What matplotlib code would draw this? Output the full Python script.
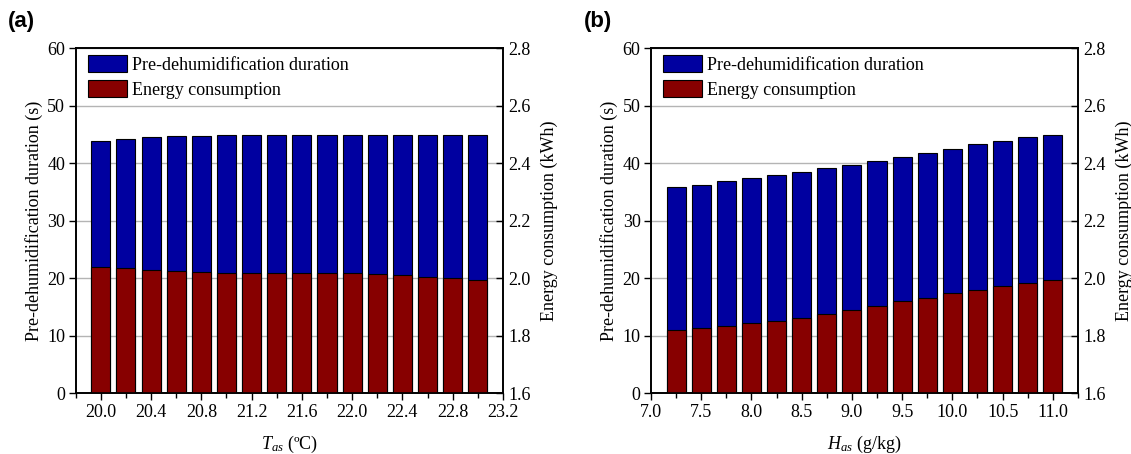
import matplotlib
matplotlib.use("Agg")
import matplotlib.pyplot as plt
from matplotlib.ticker import MultipleLocator, FormatStrFormatter
from matplotlib.patches import Patch

plt.rcParams['font.family'] = ['Liberation Serif', 'DejaVu Serif']
plt.rcParams['mathtext.fontset'] = 'custom'
plt.rcParams['mathtext.it'] = 'Liberation Serif:italic'
plt.rcParams['mathtext.rm'] = 'Liberation Serif'
plt.rcParams['font.size'] = 13

# Panel (a): supply air temperature
t_as = [20.0, 20.2, 20.4, 20.6, 20.8, 21.0, 21.2, 21.4, 21.6, 21.8,
        22.0, 22.2, 22.4, 22.6, 22.8, 23.0]
dur_a = [43.9, 44.3, 44.55, 44.7, 44.8, 44.85, 44.9, 44.9, 44.95, 44.95,
         44.95, 44.95, 44.95, 44.95, 45.0, 45.0]
energy_a = [2.038, 2.035, 2.030, 2.025, 2.022, 2.019, 2.018, 2.019, 2.019, 2.019,
            2.018, 2.014, 2.010, 2.006, 2.002, 1.995]

# Panel (b): supply air humidity ratio
h_as = [7.25, 7.5, 7.75, 8.0, 8.25, 8.5, 8.75, 9.0, 9.25, 9.5,
        9.75, 10.0, 10.25, 10.5, 10.75, 11.0]
dur_b = [35.8, 36.3, 36.85, 37.4, 37.95, 38.5, 39.1, 39.75, 40.45, 41.15,
         41.85, 42.55, 43.3, 43.9, 44.5, 45.0]
energy_b = [1.820, 1.828, 1.835, 1.846, 1.853, 1.863, 1.877, 1.891, 1.905, 1.921,
            1.933, 1.948, 1.960, 1.973, 1.984, 1.995]

BLUE = '#0000A0'
RED = '#870000'

fig = plt.figure(figsize=(11.31, 4.54), dpi=100)

def panel(rect, x, dur, en, width, xlim, major, minor, xlabel, tag, tagpos):
    ax = fig.add_axes(rect)
    ax.set_axisbelow(True)
    ax.bar(x, dur, width=width, color=BLUE, edgecolor='black', linewidth=0.8, zorder=2)
    ax.set_xlim(*xlim)
    ax.set_ylim(0, 60)
    ax.yaxis.set_major_locator(MultipleLocator(10))
    ax.xaxis.set_major_locator(MultipleLocator(major))
    ax.xaxis.set_minor_locator(MultipleLocator(minor))
    ax.xaxis.set_major_formatter(FormatStrFormatter('%.1f'))
    ax.grid(axis='y', color='#b4b4b4', linewidth=1.0)
    ax.set_ylabel('Pre-dehumidification duration (s)', labelpad=3)
    ax.set_xlabel(xlabel, labelpad=9)
    ax.tick_params(axis='y', direction='out', length=5, width=1, pad=2.5)
    ax.tick_params(axis='x', which='major', direction='out', length=5, width=1, pad=3)
    ax.tick_params(axis='x', which='minor', direction='out', length=3.5, width=1)
    ax2 = ax.twinx()
    ax2.bar(x, [e - 1.6 for e in en], width=width, bottom=1.6, color=RED,
            edgecolor='black', linewidth=0.8, zorder=2)
    ax2.set_ylim(1.6, 2.8)
    ax2.yaxis.set_major_locator(MultipleLocator(0.2))
    ax2.yaxis.set_major_formatter(FormatStrFormatter('%.1f'))
    ax2.set_ylabel('Energy consumption (kWh)', labelpad=7)
    ax2.tick_params(axis='y', direction='in', length=5, width=1, pad=4)
    for a in (ax, ax2):
        for s in a.spines.values():
            s.set_linewidth(1.2)
    handles = [Patch(facecolor=BLUE, edgecolor='black', linewidth=0.8),
               Patch(facecolor=RED, edgecolor='black', linewidth=0.8)]
    ax2.legend(handles, ['Pre-dehumidification duration', 'Energy consumption'],
               loc='upper left', bbox_to_anchor=(0.02, 0.99), frameon=False, fontsize=13,
               handlelength=2.15, handleheight=1.05, handletextpad=0.3,
               labelspacing=0.35, borderaxespad=0.0, borderpad=0.2)
    fig.text(tagpos[0], tagpos[1], tag, fontsize=16, fontweight='bold',
             family='Liberation Sans', ha='left', va='top')
    return ax

panel([0.0669, 0.1337, 0.3778, 0.760], t_as, dur_a, energy_a, 0.152,
      (19.8, 23.2), 0.4, 0.2, '$T_{as}$ (\u00baC)', '(a)', (0.007, 0.975))
panel([0.5756, 0.1337, 0.3775, 0.760], h_as, dur_b, energy_b, 0.19,
      (7.0, 11.25), 0.5, 0.25, '$H_{as}$ (g/kg)', '(b)', (0.516, 0.975))

fig.savefig('out.png', dpi=100)
